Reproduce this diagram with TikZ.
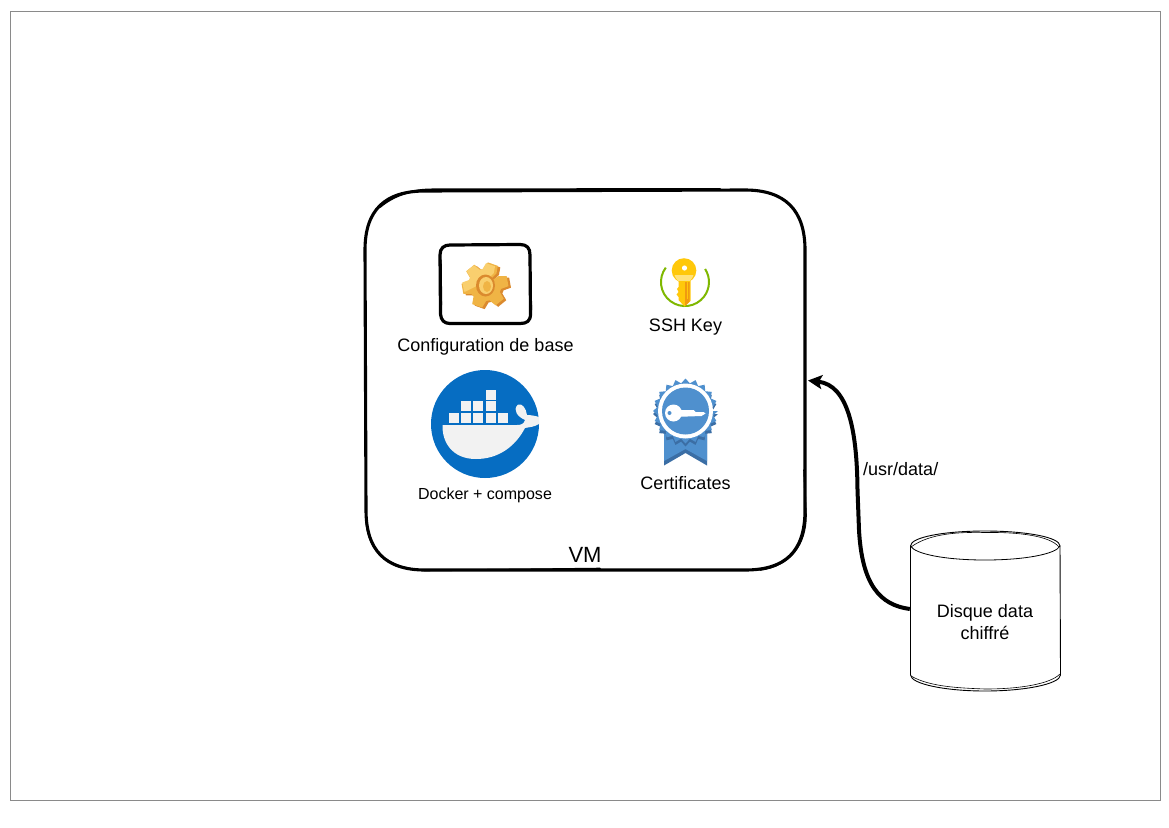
\documentclass[tikz,border=0pt]{standalone}
\usepackage{fontspec}
\setmainfont{Liberation Sans}
\usetikzlibrary{arrows.meta}
\definecolor{frameg}{HTML}{8A8A8A}
\definecolor{dockerb}{HTML}{066DC2}
\definecolor{whale}{HTML}{F2F2F2}
\definecolor{certb}{HTML}{4F90CE}
\definecolor{certd}{HTML}{3B6EA5}
\definecolor{keyy}{HTML}{FFC80A}
\definecolor{keyl}{HTML}{FFE27A}
\definecolor{keyo}{HTML}{F09A10}
\definecolor{keyg}{HTML}{7FB800}
\definecolor{gearl}{HTML}{F9CF6E}
\definecolor{gearm}{HTML}{F0B445}
\definecolor{geard}{HTML}{DB8A2E}
\tikzset{
  x=1pt,y=-1pt,
  label18/.style={inner sep=0pt,font=\fontsize{18}{22}\selectfont,align=center},
  label16/.style={inner sep=0pt,font=\fontsize{16}{19}\selectfont,align=center},
  label22/.style={inner sep=0pt,font=\fontsize{22}{26}\selectfont},
  sketch/.style={draw=black,line cap=round,line join=round},
}
\newcommand{\gearpath}{
  (0,0) \foreach \a in {-10,50,...,290}{
    -- ({16.5*cos(\a-24)},{0.97*16.5*sin(\a-24)})
    -- ({23.5*cos(\a-13)},{0.97*23.5*sin(\a-13)})
    -- ({23.5*cos(\a+13)},{0.97*23.5*sin(\a+13)})
    -- ({16.5*cos(\a+24)},{0.97*16.5*sin(\a+24)})
  } -- cycle
}
\begin{document}
\begin{tikzpicture}
\useasboundingbox (0,0) rectangle (1169,827);
\fill[white] (0,0) rectangle (1169,827);
\draw[frameg,line width=0.8pt] (10.5,11) rectangle (1160.5,800);

% VM outline
\node[inner sep=0pt,minimum width=440pt,minimum height=380pt] (vm) at (585,380) {};
\draw[sketch,line width=3.1pt] (425,191) -- (745,190)
  .. controls (785,190) and (805,210) .. (805,250)
  -- (805,510) .. controls (805,552) and (785,570) .. (745,570)
  -- (425,570) .. controls (385,570) and (366,550) .. (366,510)
  -- (365,250) .. controls (365,210) and (385,191) .. (425,191) -- cycle;
\draw[sketch,line width=2pt] (380,207) .. controls (393,196) and (410,190) .. (430,189.5) -- (720,189);
\draw[sketch,line width=1.6pt] (366,520) .. controls (368,550) and (385,568) .. (425,570.5) -- (600,568.5);
\draw[sketch,line width=1.6pt] (804,470) -- (806,515) .. controls (806,545) and (790,566) .. (760,570);
\node[label22] (vmlabel) at (585,555) {VM};

% Configuration box
\draw[sketch,line width=3.2pt] (450,245) -- (520,244.5)
  .. controls (527,244.5) and (530,248) .. (530,255)
  -- (530.5,314) .. controls (530.5,321) and (527,323.5) .. (520,323.5)
  -- (450,323.5) .. controls (444,323.5) and (441,320) .. (440.5,314)
  -- (440,255) .. controls (440,248) and (444,245) .. (450,245) -- cycle;
\draw[sketch,line width=1.4pt] (441,260) -- (441.5,305);
\draw[sketch,line width=1.4pt] (529.5,262) -- (531.5,310);

% Gear
\begin{scope}[shift={(487.5,286.5)}]
  \fill[geard] \gearpath;
  \begin{scope}[shift={(-2.5,-1.5)}]
    \fill[gearm] \gearpath;
  \end{scope}
  \begin{scope}[shift={(-4,-3)},scale=0.9]
    \clip (-30,-30) -- (30,-30) -- (6,-4) -- (-30,14) -- cycle;
    \fill[gearl] \gearpath;
  \end{scope}
  \fill[geard] (-2,-1) ellipse [x radius=9.5,y radius=11];
  \fill[gearl] (-1.5,-1) ellipse [x radius=7,y radius=8.5];
  \fill[gearm] (-0.5,0) ellipse [x radius=4,y radius=5.5];
\end{scope}
\node[label18] (cfg) at (485.5,346.5) {Configuration de base};

% SSH key
\draw[keyg,line width=2pt] (665.8,267.6) arc[start angle=217,end angle=-33,radius=24];
\fill[keyy] (684,270.5) circle (12.3);
\fill[keyl] (674.5,275) -- (693.5,275) .. controls (692,280) and (689,282.5) .. (684,282.5) .. controls (679,282.5) and (676,280) .. (674.5,275) -- cycle;
\fill[keyy] (678.5,281) -- (690.5,281) -- (690.5,301) -- (684.5,306.5) -- (678.5,300) -- (678.5,297) -- (676.5,294.5) -- (678.5,292)
  -- (677,289) -- (678.5,287) -- cycle;
\fill[keyo] (685,282) -- (689.5,282) -- (689.5,301.5) -- (685,306) -- cycle;
\fill[keyy] (686.5,282) -- (687.5,282) -- (687.5,299) -- (686.5,299) -- cycle;
\fill[white] (684.5,268) circle (2.6);
\node[label18] (ssh) at (685.5,327) {SSH Key};

% Docker
\fill[dockerb] (485,424) circle (54);
\foreach \cx/\cy in {454/418,466/418,478/418,490.5/418,502.5/418,466/406,478/406,490.5/406,490.5/394.5}
  \fill[whale] (\cx-5,\cy-5) rectangle (\cx+5,\cy+5);
\fill[whale] (442.5,425) -- (517,425) .. controls (521,425) and (524,424) .. (525,420)
  .. controls (518,417) and (512,410) .. (518,404.5)
  .. controls (522,403) and (526,408) .. (527,415)
  .. controls (531,415) and (536,416) .. (539,417)
  -- (539,424) .. controls (534,427) and (530,427) .. (525,428)
  .. controls (515,447) and (498,459) .. (476,459)
  .. controls (452,459) and (442,442) .. (442.5,425) -- cycle;
\node[label16] (dkr) at (485,495) {Docker + compose};

% Certificate
\begin{scope}[shift={(685.5,411)}]
  \fill[certd] (-21.5,20) -- (-21.5,54.5) -- (0,42) -- (21.5,54.5) -- (21.5,20) -- cycle;
  \fill[certb] (-21.5,20) -- (-21.5,50) -- (0,38) -- (21.5,50) -- (21.5,20) -- cycle;
  \fill[certd] (0,3) \foreach \a in {0,1,...,39}{
     -- ({32.5*(1-0.14*mod(\a,2))*cos(\a*9)},{3+32.5*(1-0.14*mod(\a,2))*sin(\a*9)})} -- cycle;
  \fill[certb] (0,0) \foreach \a in {0,1,...,39}{
     -- ({32.5*(1-0.14*mod(\a,2))*cos(\a*9)},{32.5*(1-0.14*mod(\a,2))*sin(\a*9)})} -- cycle;
  \fill[white] (0,0) circle (27.5);
  \fill[certb] (0,0) circle (23.5);
  \fill[white] (-12,2) circle (8.5);
  \fill[white] (-12,-1) -- (8,-1) -- (10,1) -- (18,1) -- (20,2.5) -- (16,5) -- (-12,6) -- cycle;
  \fill[certb] (-16,2) circle (2);
\end{scope}
\node[label18] (cert) at (685.5,483) {Certificates};

% Disk
\node[inner sep=0pt,minimum width=150pt,minimum height=160pt] (disk) at (985,611) {};
\draw[sketch,line width=0.9pt,fill=white] (910.5,546) .. controls (910.5,537) and (945,531) .. (985,531)
  .. controls (1025,531) and (1060,537) .. (1060,546)
  -- (1060.5,675) .. controls (1060,684) and (1025,691) .. (985,691)
  .. controls (945,691) and (911,684) .. (910.5,675) -- cycle;
\draw[sketch,line width=0.8pt] (910.5,546) .. controls (915,554) and (945,560) .. (985,560)
  .. controls (1025,560) and (1056,554) .. (1060,546);
\draw[sketch,line width=0.6pt] (911,547) .. controls (930,533) and (960,532) .. (985,532.5)
  .. controls (1020,532) and (1050,536) .. (1059,547);
\draw[sketch,line width=0.6pt] (911,676) .. controls (930,687) and (960,688) .. (985,689)
  .. controls (1020,689) and (1050,684) .. (1060,674);
\node[label18] (disktext) at (985,622) {Disque data\\chiffré};

% Connector
\coordinate (vmport) at (808,380.5);
\draw[line width=4pt,-{Stealth[length=14pt,width=14pt,inset=3pt]}] (disk.west |- 0,609)
  .. controls (880,605) and (862,585) .. (859,530)
  -- (857.5,490)
  .. controls (857,430) and (848,385) .. (vmport);
\node[label18,anchor=west] (usr) at (863,469) {/usr/data/};
\end{tikzpicture}
\end{document}
